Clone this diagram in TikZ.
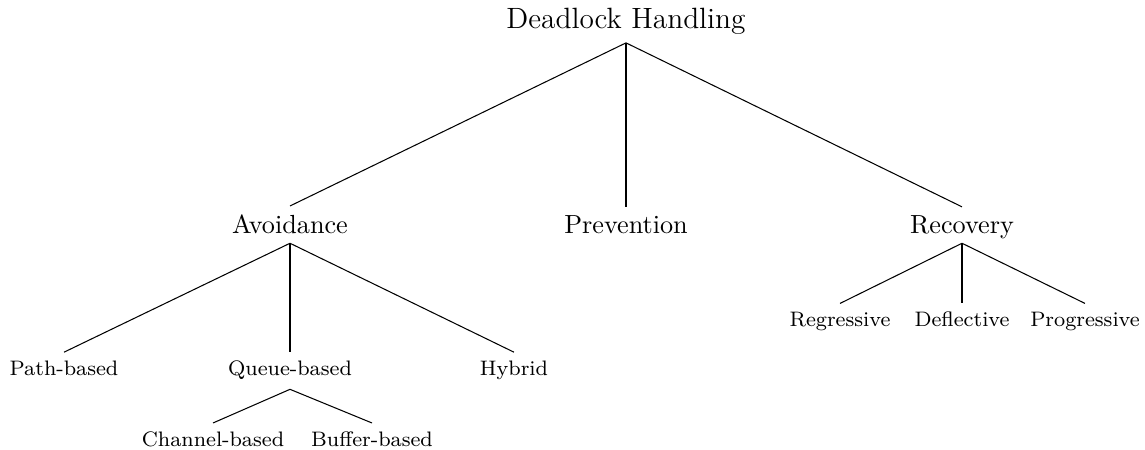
\documentclass[tikz,border=0pt]{standalone}
\begin{document}
\begin{tikzpicture}[x=0.3817pt,y=-0.3817pt,
  every node/.style={anchor=base},
  rootnode/.style={font=\fontsize{11.2}{13.5}\selectfont, inner sep=2.8pt},
  midnode/.style={font=\normalsize, text depth=0pt},
  leafnode/.style={font=\footnotesize},
  link/.style={line width=0.4pt}]
\useasboundingbox (0,0) rectangle (1145,450);
% root
\node[rootnode] (root) at (626,29) {Deadlock Handling};
% first level
\node[midnode] (avo)  at (290,234) {Avoidance};
\node[midnode] (prev) at (626,234) {Prevention};
\node[midnode] (rec)  at (962,234) {Recovery};
% children of Avoidance
\node[leafnode] (path)   at (64,376)  {Path-based};
\node[leafnode] (queue)  at (290,376) {Queue-based};
\node[leafnode] (hybrid) at (514,376) {Hybrid};
% children of Queue-based
\node[leafnode] (chan) at (213,447) {Channel-based};
\node[leafnode] (buf)  at (372,447) {Buffer-based};
% children of Recovery
\node[leafnode] (reg)  at (840,327)  {Regressive};
\node[leafnode] (defl) at (962,327)  {Deflective};
\node[leafnode] (prog) at (1085,327) {Progressive};
% connectors
\draw[link] (root.south) -- (avo.north);
\draw[link] (root.south) -- (prev.north);
\draw[link] (root.south) -- (rec.north);
\draw[link] (avo.south) -- (path.north);
\draw[link] (avo.south) -- (queue.north);
\draw[link] (avo.south) -- (hybrid.north);
\draw[link] (queue.south) -- (chan.north);
\draw[link] (queue.south) -- (buf.north);
\draw[link] (rec.south) -- (reg.north);
\draw[link] (rec.south) -- (defl.north);
\draw[link] (rec.south) -- (prog.north);
\end{tikzpicture}
\end{document}
